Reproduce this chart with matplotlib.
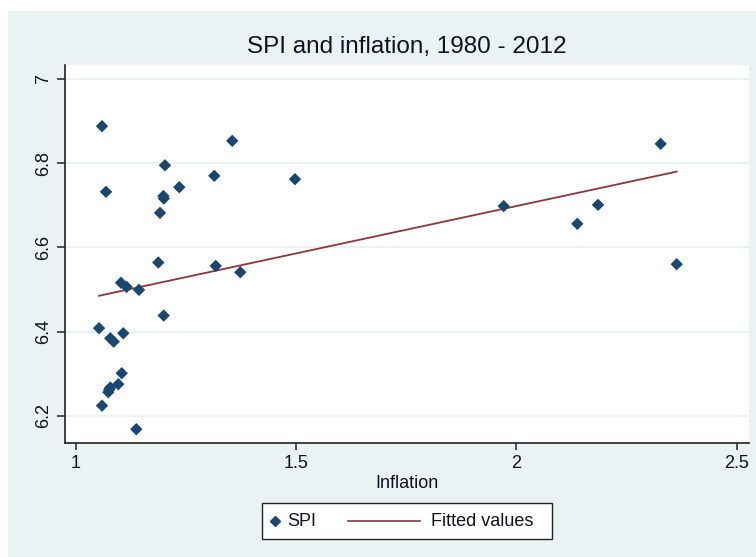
import matplotlib
matplotlib.use("Agg")
import matplotlib.pyplot as plt
from matplotlib.patches import Rectangle
from matplotlib.lines import Line2D

plt.rcParams['font.family'] = ['Liberation Sans', 'DejaVu Sans']

title = "SPI and inflation, 1980 - 2012"
x_label = "Inflation"
legend_labels = ["SPI", "Fitted values"]

inflation = [1.0597, 1.3553, 1.2026, 1.3145, 1.4976, 1.0688, 1.2351, 1.1990,
             1.2000, 1.1913, 1.1874, 1.3177, 1.3735, 1.1028, 1.1157, 1.1436,
             1.1997, 1.0529, 1.0785, 1.0862, 1.1080, 1.1044, 1.0967, 1.0785,
             1.0740, 1.0597, 1.1375, 1.9712, 2.3274, 2.1852, 2.1382, 2.3637,
             1.0760]
spi = [6.888, 6.853, 6.795, 6.770, 6.762, 6.732, 6.743, 6.722,
       6.716, 6.682, 6.564, 6.556, 6.541, 6.516, 6.506, 6.499,
       6.438, 6.408, 6.384, 6.376, 6.396, 6.301, 6.275, 6.267,
       6.256, 6.224, 6.168, 6.698, 6.846, 6.701, 6.656, 6.560,
       6.262]

fit_x = [1.0529, 2.3637]
fit_y = [6.485, 6.780]

x_ticks = [1, 1.5, 2, 2.5]
x_tick_labels = ["1", "1.5", "2", "2.5"]
y_ticks = [6.2, 6.4, 6.6, 6.8, 7.0]
y_tick_labels = ["6.2", "6.4", "6.6", "6.8", "7"]

W, H = 756, 557
bg = '#EAF2F3'
fig = plt.figure(figsize=(W / 100, H / 100), dpi=100, facecolor=bg)
# white outer margins (left and top)
fig.add_artist(Rectangle((0, 0), 8 / W, 1, transform=fig.transFigure,
                         facecolor='white', edgecolor='none', zorder=0))
fig.add_artist(Rectangle((0, 1 - 11 / H), 1, 11 / H, transform=fig.transFigure,
                         facecolor='white', edgecolor='none', zorder=0))

left, right, top, bottom = 65, 749, 65, 442.5
ax = fig.add_axes([left / W, (H - bottom) / H, (right - left) / W, (bottom - top) / H])
ax.set_facecolor('white')

navy = '#1A476F'
maroon = '#90353B'
dark = '#222222'
txt = '#111122'

ax.scatter(inflation, spi, marker='D', s=40, color=navy, edgecolors='none',
           zorder=3)
ax.plot(fit_x, fit_y, color=maroon, lw=1.3, zorder=2)

ax.set_xlim(0.9757, 2.5278)
ax.set_ylim(6.1364, 7.0333)
ax.set_xticks(x_ticks)
ax.set_xticklabels(x_tick_labels)
ax.set_yticks(y_ticks)
ax.set_yticklabels(y_tick_labels, rotation=90, va='center')

ax.grid(axis='y', color=bg, lw=1.5, zorder=0)
ax.set_axisbelow(True)
for s in ['top', 'right']:
    ax.spines[s].set_visible(False)
for s in ['left', 'bottom']:
    ax.spines[s].set_color(dark)
    ax.spines[s].set_linewidth(1.2)

ax.tick_params(axis='both', direction='out', width=1.1,
               color=dark, labelsize=13, labelcolor=txt)
ax.tick_params(axis='x', length=5, pad=4)
ax.tick_params(axis='y', length=6, pad=3)

ax.set_xlabel(x_label, fontsize=13, color=txt, labelpad=2)
ax.set_title(title, fontsize=17.5, color=txt, pad=9)

# legend box (manual, Stata style)
def fx(px):
    return px / W

def fy(py):
    return 1 - py / H

fig.add_artist(Rectangle((fx(262), fy(539)), fx(552) - fx(262), fy(503) - fy(539),
                         transform=fig.transFigure, facecolor='white',
                         edgecolor=dark, lw=1.0, zorder=5))
fig.add_artist(Line2D([fx(275)], [fy(521)], marker='D', markersize=5, color=navy,
                      ls='none', transform=fig.transFigure, zorder=6))
fig.text(fx(287), fy(521), legend_labels[0], fontsize=13, color=txt,
         ha='left', va='center', zorder=6)
fig.add_artist(Line2D([fx(348), fx(420)], [fy(521), fy(521)], color=maroon, lw=1.2,
                      transform=fig.transFigure, zorder=6))
fig.text(fx(431), fy(521), legend_labels[1], fontsize=13, color=txt,
         ha='left', va='center', zorder=6)

fig.savefig('out.png', dpi=100, facecolor=bg)
